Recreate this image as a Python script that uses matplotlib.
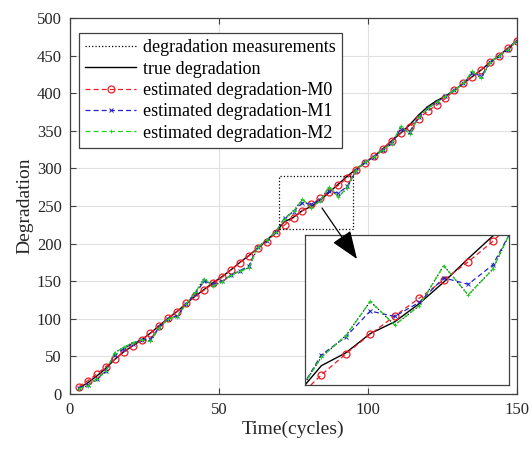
import numpy as np
import matplotlib.pyplot as plt
from matplotlib.patches import Rectangle, FancyArrowPatch

plt.rcParams['font.family'] = ['Liberation Serif', 'DejaVu Serif']

# measurement times (cycles)
t = np.arange(3, 151, 3)

# true degradation (black solid)
true_deg = [8, 15, 24, 34, 46, 56, 64, 72, 81, 91, 101, 110, 120, 130, 139, 148, 156, 165, 175, 184,
            194, 204, 215.5, 229, 235, 244, 249.5, 258, 268, 279, 289.5, 299, 308, 316, 326, 337, 347, 358,
            371, 382, 390, 396, 404, 413, 422, 431, 441, 450, 460, 470]

# estimated degradation M0 (red, circles)
est_m0 = [9.7, 17.7, 26.6, 36.3, 46, 56, 64, 71.8, 80.7, 90.4, 100.7, 109.5, 121, 130, 138, 147, 155, 165, 174.6, 183.5,
          193.7, 202.6, 213.7, 224.7, 234.5, 243.7, 252.2, 260.5, 269, 277.5, 287, 298, 307.6, 316, 326, 337, 346.7, 355.5,
          366, 376.3, 384, 393, 404, 413, 422, 431, 442, 449.5, 459.7, 469.8]

# estimated degradation M1 (blue)
est_m1 = [8, 12, 20, 31, 52, 60, 67, 72, 73, 89, 100, 104, 120, 133, 150, 146, 150, 158, 164, 170,
          195, 204, 215, 234, 242.5, 254.5, 252, 258.6, 270, 267, 276, 297, 308, 315, 325, 334, 352, 349,
          368, 380, 388, 396, 404, 413, 427, 423, 441, 450, 458, 470]

# estimated degradation M2 (green)
est_m2 = [7, 11, 20, 30, 55, 62, 68, 72, 70, 88, 100, 103, 120, 135, 153, 144, 149, 158, 163, 168,
          195, 205, 215, 233, 243, 259, 248, 257, 275.7, 262, 274, 298, 308, 315, 325, 333, 356, 346,
          368, 380, 388, 396, 404, 413, 429, 420, 441, 450, 458, 470]

# noisy measurements (black dotted)
meas = [7, 11, 20, 30, 55, 62, 68, 72, 70, 88, 100, 103, 120, 135, 153, 144, 149, 158, 163, 168,
        195, 205, 215, 233, 243, 259, 248, 257, 275.7, 262, 274, 298, 308, 315, 325, 333, 356, 346,
        368, 380, 388, 396, 404, 413, 429, 420, 441, 450, 458, 470]

zoom_x = (70, 95)
zoom_y = (220, 290)

W, H = 532, 449
fig = plt.figure(figsize=(W / 100, H / 100), dpi=100)
ax = fig.add_axes([70 / W, 1 - 394 / H, 447 / W, 376 / H])


def draw(a):
    a.plot(t, meas, ':', color='k', lw=0.9, label='degradation measurements')
    a.plot(t, true_deg, '-', color='k', lw=1.0, label='true degradation')
    a.plot(t, est_m0, '--', color='#ee1c24', lw=0.9, marker='o', ms=5, mfc='none', mew=0.9,
           dashes=(4, 2.5), label='estimated degradation-M0')
    a.plot(t, est_m1, '--', color='#2424c8', lw=0.9, marker='x', ms=3.5, mew=0.7,
           dashes=(4, 2.5), label='estimated degradation-M1')
    a.plot(t, est_m2, '--', color='#1ed21e', lw=0.9, marker='+', ms=3, mew=0.6,
           dashes=(4, 2.5), label='estimated degradation-M2')


draw(ax)
ax.set_xlim(0, 150)
ax.set_ylim(0, 500)
ax.set_xticks([0, 50, 100, 150])
ax.set_yticks(np.arange(0, 501, 50))
ax.grid(True, color='#e0e0e0', lw=0.8)
ax.set_axisbelow(True)
ax.tick_params(direction='in', top=True, right=True, labelsize=12, pad=6, length=4,
               color='#404040', labelcolor='#262626')
for s in ax.spines.values():
    s.set_color('#404040')
    s.set_linewidth(0.9)
ax.set_xlabel('Time(cycles)', fontsize=14, color='#262626', labelpad=2)
ax.set_ylabel('Degradation', fontsize=14, color='#262626', labelpad=2)

leg = ax.legend(loc='upper left', bbox_to_anchor=(9 / 447, 1 - 15 / 376), fontsize=13,
                handlelength=2.8, handletextpad=0.4, borderpad=0.35, labelspacing=0.24,
                fancybox=False, framealpha=1, borderaxespad=0)
leg.get_frame().set_edgecolor('#404040')
leg.get_frame().set_linewidth(0.9)

# zoom rectangle
ax.add_patch(Rectangle((zoom_x[0], zoom_y[0]), zoom_x[1] - zoom_x[0], zoom_y[1] - zoom_y[0],
                       fill=False, ls=':', lw=0.9, ec='k', zorder=5))

# inset
axin = fig.add_axes([305 / W, 1 - 385 / H, 204 / W, 150 / H])
draw(axin)
axin.set_xlim(*zoom_x)
axin.set_ylim(*zoom_y)
axin.set_xticks([])
axin.set_yticks([])
for s in axin.spines.values():
    s.set_color('#404040')
    s.set_linewidth(0.9)

# arrow from the rectangle to the inset, drawn above both axes
arrow = FancyArrowPatch((322 / W, 1 - 208 / H), (357 / W, 1 - 259 / H), transform=fig.transFigure,
                        arrowstyle='-|>,head_length=1.1,head_width=0.42', mutation_scale=16,
                        color='k', lw=0.9, shrinkA=0, shrinkB=0, zorder=10)
fig.add_artist(arrow)

fig.savefig('out.png', dpi=100)
